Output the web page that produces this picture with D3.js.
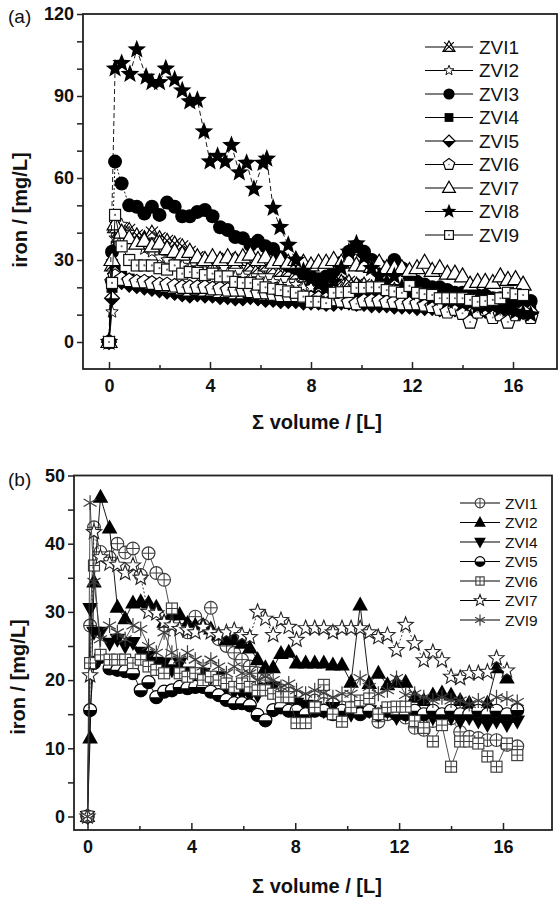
<!DOCTYPE html>
<html><head><meta charset="utf-8">
<script src="https://cdn.jsdelivr.net/npm/d3@7"></script>
<style>body{margin:0;background:#fff} svg{display:block} text{font-family:"Liberation Sans",Arial,sans-serif}</style>
</head><body><svg id="c" width="560" height="903"></svg>
<script>
// ---------- Panel (a) data ----------
const volumeA = [0,0.12,0.24,0.5,0.8,1.1,1.4,1.7,2.0,2.3, 2.6,2.9,3.2,3.5,3.8,4.1,4.4,4.7,5.0,5.3, 5.6,5.9,6.2,6.5,6.8,7.1,7.4,7.7,8.0,8.3, 8.6,8.9,9.2,9.5,9.8,10.1,10.4,10.7,11.0,11.3, 11.6,11.9,12.2,12.5,12.8,13.1,13.4,13.7,14.0,14.3, 14.6,14.9,15.2,15.5,15.8,16.1,16.4,16.7];
const zvi1A = [0,28,42,40,41,39,38,40,38,37, 36,35,33,31,30,29,30,30.5,29,30, 28,27,28,27,26,26,25,24,23,22, 22,23,22,22,21,21,20,20,19,19, 18,18,17.5,17,17,16.5,16,16,15.5,15, 15,14.5,14,14,13.5,13,13,12.5];
const zvi2A = [0,11,38,43,40,36,34,33,31,30, 29,28,27,27,26,26,25,25,24,24, 23,23,22,22,21,21,21,20,20,20, 19.5,19,19,19,18.5,18.5,18,18,18,17.5, 17.5,17,17,17,16.5,16.5,16,16,16,15.5, 15.5,15.5,15,15,15,15,14.5,14.5];
const zvi3A = [0,33,66,58,50,49.5,47,49.5,46.5,51, 49.5,46,46,47.6,48.3,46,42,41,38.4,38, 35.5,37,35,34,31,28,27,25,24,23, 24,26,29,33,35,33,30,28,27,30, 27,24,22,21,20,20,19,18,18,17, 17,17,16,16,16,16,15.5,15];
const zvi4A = [0,20,26,24,23,22,22,21,21,20, 20,19.5,19,19,18.5,18.5,18,18,18,17.5, 17.5,17.5,17,17,17,17,16.5,16.5,16.5,16, 16,16,16.5,17,17,16.5,16,16,15.5,15.5, 15,15,15,14.5,14.5,14,14,14,13.5,13.5, 13,13,13,12.5,12.5,12,12,12];
const zvi5A = [0,16,25,22,21,20.5,20,19.5,19,18.5, 18,17.5,17,17.5,17,17,16.5,16.5,16,16, 16.5,16,15.5,15.5,15,15,15,14.5,14.5,14.5, 14,14,14.5,14.5,14,14,13.5,13.5,13.5,13, 13,13,12.5,12.5,12.5,12,12,12,12,11.5, 11.5,11.5,11.5,11,11,11,11,11];
const zvi6A = [0,22,24,23,22.5,22,22,21.5,21,21, 20.5,20,20,20,20,19.5,19.5,19,19,19, 18.5,18,18,17.5,17,17,17,16.5,16,16, 15.5,15.5,15,14.5,14,15,15,15,14.5,14.5, 14,14,14,13.5,13,12,11,12,10.5,7.3, 11,12,9,10,7.3,10,11,9];
const zvi7A = [0,30,43,40,38,36,37,35,36,34, 33,32,33,31,30,31,30,31,30,31, 32,30,31,29,30,29,30,29,28,29, 29,30,29,30,28,28,27.5,29,27,27, 27,26,27,29,26,27,25,25,24,21, 22,22,21.6,24,22.7,23,21,null];
const zvi9A = [0,21.6,46.5,35,30,28,28,28,27,26.5, 28,25,25.6,25.3,24.5,25,24,24,22,21.6, 21.6,21,20,19.5,19,18.5,18,16.6,14.7,14.7, 14.2,18,18.2,18.3,19.8,19.8,20,20,19,18.5, 18,20.5,18,17.5,17.2,16,16,16,16,15.4, 14.7,15,15.4,16,18,17.5,17.2,null];
const volumeA8 = [0,0.24,0.5,0.83,1.1,1.47,1.7,2.0,2.25,2.6, 2.9,3.2,3.5,3.76,4.0,4.3,4.6,4.85,5.16,5.45, 5.74,6.1,6.25,6.5,6.77,7.1,7.4,7.7,8.0,8.3, 8.6,8.9,9.2,9.5,9.8,10.1,10.4,10.7,11.0,11.3, 11.6,11.9,12.2,12.5,12.8,13.1,13.4,13.7,14.0,14.3, 14.6,14.9,15.2,15.5,15.8,16.1,16.4,16.7];
const zvi8A = [0,100,102,98,107,97,95,95,100,96, 92,88,88.5,77,66,68,66,72,62,65.5, 56,65.5,67,49,42,35.5,30,26,23,21, 20,22,27,33,36,31,27,24,22,24, 20,18,19,17,16,16,15,15,14,14, 13,13,13,12,12,11,10.5,10];

// ---------- Panel (b) data ----------
const volumeB = [0,0.1,0.25,0.5,0.85,1.15,1.45,1.75,2.05,2.35, 2.65,2.95,3.25,3.55,3.85,4.15,4.45,4.75,5.05,5.35, 5.65,5.95,6.25,6.55,6.85,7.15,7.45,7.75,8.05,8.4, 8.75,9.1,9.45,9.8,10.15,10.5,10.85,11.2,11.55,11.9, 12.25,12.6,12.95,13.3,13.65,14.0,14.35,14.7,15.05,15.4, 15.75,16.15,16.55];
const zvi1B = [0,28,42.4,38.8,38,40,38.7,39.3,35.4,38.6, 35.7,34.7,29,28.3,27,29.3,28,30.6,26,25, 24,23,22,21,20,19,18.5,18,17.5,17, 17,16.5,16.5,16,16,16,15.5,13.9,15,15, 14.5,13,12.7,14,14.9,14.4,12.4,11.7,11.5,11.2, 11.2,10.5,10.3];
const zvi2B = [0,11.5,34.4,46.8,42.3,30.7,29,31.3,31.5,31.3, 30.7,28.5,29.6,29.6,28.3,28,28,27.5,26.6,25.9, 25.9,25.4,24.7,23,21.8,21.8,23.9,24.1,22.5,22.5, 22.5,22.5,22.2,22.2,19.7,31,19.5,21,19.3,19.7, 19.7,17.5,17,17.8,18.1,17.8,17,16.6,15.2,16.6, 21.8,20.3,null];
const zvi4B = [0,30.5,27,27,25.4,26,25,25.5,24.1,23.5, 22.6,22.5,21.5,22.5,21.2,21,21,20.5,20.5,18.5, 18.3,18,17.8,17.8,18.8,19,17.5,17,16.6,16.3, 16.1,15.5,16,15.5,15,16,15.5,15,15.5,14.5, 15,14.5,15,14.5,15,14.5,14,14.5,14,13.5, 14,13.5,14];
const zvi5B = [0,15.6,22.5,23.4,21.7,21.5,21.3,21,18.5,19.7, 17.5,18.3,18.5,19,18.8,19,19,18.3,17.8,17.1, 16.6,16.6,16.3,14.9,14.1,15.6,16,15.5,15.5,15, 15.5,15.5,15,15.5,15.5,15,15.5,15,15.5,15, 15,15.5,15,15.5,15,15.5,15,15,15.5,15, 15.5,15,15.6];
const zvi6B = [0,22.5,36.8,23.7,23,23,23,22.5,23,22, 21.5,21,30.5,21,20.5,21,20,20.5,20,19.5, 19,19.5,19,18.5,18.5,18,17.5,17.5,13.7,13.7, 16,19.3,15,13.9,16,17,17.3,15,16,16.1, 16.1,14,13,11,13.4,7.3,11,11,10.7,8.8, 7.3,10.7,9];
const zvi7B = [0,20.7,41.7,38,37.1,36.9,35.7,36.8,35,30, 29.8,28.5,28,27.5,27.3,27,27.8,27,26.6,27, 27.3,26.6,26.3,30,29,26.6,28.8,27.8,25.9,27.6, 27.6,27.6,27,27.6,27.6,27.6,27,26.3,26.6,24.4, 28.1,25.4,22.9,24.1,22.9,20.5,20.3,21,21,21.2, 23.2,21.4,null];
const zvi9B = [0,46,34.4,26,28,27,26,28,27.5,25, 24,27,24,23,24,23,22,23,22,21, 22,21,21,20,20.5,20,19,19.5,18.5,18, 18.5,18.1,17.5,18,18,20.3,19,18,18.5,20.3, 17.8,18,17.5,17,17.5,17,17,16.5,17,16.5, 17.5,17.3,16.8];

const ticksAx = [0,4,8,12,16], minorAx = [2,6,10,14];
const ticksAy = [0,30,60,90,120], minorAy = [10,20,40,50,70,80,100,110];
const ticksBx = [0,4,8,12,16], minorBx = [2,6,10,14];
const ticksBy = [0,10,20,30,40,50], minorBy = [5,15,25,35,45];

// ---------- drawing ----------
const svg = d3.select('#c');
const FONT = '"Liberation Sans",Arial,sans-serif';
const GRAY = '#3c3c3c';

function starPts(R, r){ const p=[]; for(let i=0;i<10;i++){const a=-Math.PI/2+i*Math.PI/5; const rr=i%2?r:R; p.push([rr*Math.cos(a), rr*Math.sin(a)]);} return p; }
function polyPts(n,R){ const p=[]; for(let i=0;i<n;i++){const a=-Math.PI/2+i*2*Math.PI/n; p.push([R*Math.cos(a),R*Math.sin(a)]);} return p; }
const P = pts => 'M'+pts.map(q=>q[0].toFixed(2)+','+q[1].toFixed(2)).join('L')+'Z';

function drawMarker(g, type, k){
  const s = v => v*k;
  const sw = 1.15;
  switch(type){
    case 'triX':
      g.append('path').attr('d', P([[0,s(-7.5)],[s(7.5),s(5.5)],[s(-7.5),s(5.5)]])).attr('fill','#fff').attr('stroke','#000').attr('stroke-width',sw);
      g.append('path').attr('d', `M${s(-6)},${s(-6)}L${s(6)},${s(5.5)}M${s(6)},${s(-6)}L${s(-6)},${s(5.5)}`).attr('stroke','#000').attr('stroke-width',sw).attr('fill','none');
      break;
    case 'starOpenS':
      g.append('path').attr('d', P(starPts(s(6.5), s(2.8)))).attr('fill','#fff').attr('stroke','#111').attr('stroke-width',1);
      break;
    case 'circleFill':
      g.append('circle').attr('r', s(7)).attr('fill','#000');
      break;
    case 'squareFill':
      g.append('rect').attr('x',s(-5.5)).attr('y',s(-5.5)).attr('width',s(11)).attr('height',s(11)).attr('fill','#000');
      break;
    case 'diamondHalf':
      g.append('path').attr('d', P([[0,s(-7.5)],[s(7.5),0],[0,s(7.5)],[s(-7.5),0]])).attr('fill','#fff').attr('stroke','#000').attr('stroke-width',sw);
      g.append('path').attr('d', P([[s(-7.5),0],[s(7.5),0],[0,s(7.5)]])).attr('fill','#000');
      break;
    case 'pentagonDot':
      g.append('path').attr('d', P(polyPts(5, s(7.5)))).attr('fill','#fff').attr('stroke','#000').attr('stroke-width',sw);
      g.append('circle').attr('r', s(1)).attr('fill','#777');
      break;
    case 'triOpen':
      g.append('path').attr('d', P([[0,s(-8.5)],[s(8),s(5.5)],[s(-8),s(5.5)]])).attr('fill','#fff').attr('stroke','#000').attr('stroke-width',1.2);
      break;
    case 'starFill':
      g.append('path').attr('d', P(starPts(s(9.8), s(4.2)))).attr('fill','#000');
      break;
    case 'squareDot':
      g.append('rect').attr('x',s(-5.5)).attr('y',s(-5.5)).attr('width',s(11)).attr('height',s(11)).attr('fill','#fff').attr('stroke','#111').attr('stroke-width',1.2);
      g.append('circle').attr('r', s(1.1)).attr('fill','#666');
      break;
    case 'circlePlus':
      g.append('circle').attr('r', s(6.4)).attr('fill','#fff').attr('stroke',GRAY).attr('stroke-width',sw);
      g.append('path').attr('d', `M${s(-6.4)},0L${s(6.4)},0M0,${s(-6.4)}L0,${s(6.4)}`).attr('stroke',GRAY).attr('stroke-width',1);
      break;
    case 'triUpFill':
      g.append('path').attr('d', P([[0,s(-8.5)],[s(7.8),s(5.5)],[s(-7.8),s(5.5)]])).attr('fill','#000');
      break;
    case 'triDownFill':
      g.append('path').attr('d', P([[0,s(8.5)],[s(7.8),s(-5.5)],[s(-7.8),s(-5.5)]])).attr('fill','#000');
      break;
    case 'circleHalf':
      g.append('circle').attr('r', s(6.5)).attr('fill','#fff').attr('stroke','#000').attr('stroke-width',sw);
      g.append('path').attr('d', `M${s(-6.5)},0A${s(6.5)},${s(6.5)} 0 0 0 ${s(6.5)},0Z`).attr('fill','#000');
      break;
    case 'squareGrid':
      g.append('rect').attr('x',s(-5.5)).attr('y',s(-5.5)).attr('width',s(11)).attr('height',s(11)).attr('fill','#fff').attr('stroke',GRAY).attr('stroke-width',sw);
      g.append('path').attr('d', `M${s(-5.5)},0L${s(5.5)},0M0,${s(-5.5)}L0,${s(5.5)}`).attr('stroke',GRAY).attr('stroke-width',1);
      break;
    case 'starOpen':
      g.append('path').attr('d', P(starPts(s(8), s(3.4)))).attr('fill','#fff').attr('stroke','#222').attr('stroke-width',1.1);
      break;
    case 'asterisk': {
      const L = s(7.5); const c = Math.cos(Math.PI/6)*L, d = Math.sin(Math.PI/6)*L;
      g.append('path').attr('d', `M0,${-L}L0,${L}M${-c},${-d}L${c},${d}M${-c},${d}L${c},${-d}`).attr('stroke',GRAY).attr('stroke-width',1.2).attr('fill','none');
      break; }
  }
}

function drawPanel(cfg){
  const {x, y, box, series, tx, mx, ty, my, letter, letterY, titleY, ytitleX, ytitleY, legend} = cfg;
  const root = svg.append('g');
  series.forEach(sr => {
    const pts = sr.xs.map((v,i)=>[v, sr.ys[i]]).filter(d=>d[1]!=null);
    const line = d3.line().x(d=>x(d[0])).y(d=>y(d[1]));
    root.append('path').attr('d', line(pts)).attr('fill','none').attr('stroke', sr.lc || '#000').attr('stroke-width', 0.9).attr('stroke-dasharray', sr.dash || null);
    root.append('g').selectAll('g').data(pts).join('g')
      .attr('transform', d=>`translate(${x(d[0])},${y(d[1])})`)
      .each(function(){ drawMarker(d3.select(this), sr.type, 1); });
  });
  root.append('rect').attr('x', box.l).attr('y', box.t).attr('width', box.r-box.l).attr('height', box.b-box.t)
    .attr('fill','none').attr('stroke','#222').attr('stroke-width',1.8);
  const ga = root.append('g').attr('transform', `translate(${box.l},0)`);
  ga.call(d3.axisLeft(y).tickValues(ty).tickSize(6).tickPadding(3).tickFormat(d3.format('d')));
  ga.append('g').call(d3.axisLeft(y).tickValues(my).tickSize(6).tickFormat(''));
  const gb = root.append('g').attr('transform', `translate(0,${box.b})`);
  gb.call(d3.axisBottom(x).tickValues(tx).tickSize(-7).tickPadding(10).tickFormat(d3.format('d')));
  gb.append('g').call(d3.axisBottom(x).tickValues(mx).tickSize(-4).tickFormat(''));
  root.selectAll('.domain').remove();
  root.selectAll('.tick line').attr('stroke','#222').attr('stroke-width',1.5);
  root.selectAll('.tick text').attr('font-family', FONT).attr('font-size', 18).attr('font-weight','bold').attr('fill','#111');
  root.append('text').attr('x', 8).attr('y', letterY).attr('font-size', 19).attr('fill','#111').text(letter);
  root.append('text').attr('x', 317).attr('y', titleY).attr('text-anchor','middle').attr('font-size', 20).attr('font-weight','bold').attr('fill','#111')
    .text('Σ volume / [L]');
  root.append('text').attr('transform', `translate(${ytitleX},${ytitleY}) rotate(-90)`).attr('text-anchor','middle').attr('font-size', 20).attr('font-weight','bold').attr('fill','#111')
    .text('iron / [mg/L]');
  const lg = root.append('g');
  series.forEach((sr, i) => {
    const cy = legend.y0 + i*legend.dy;
    lg.append('line').attr('x1', legend.x1).attr('x2', legend.x2).attr('y1', cy).attr('y2', cy).attr('stroke', '#000').attr('stroke-width', 1.1);
    drawMarker(lg.append('g').attr('transform', `translate(${(legend.x1+legend.x2)/2},${cy})`), sr.type, legend.k);
    lg.append('text').attr('x', legend.tx).attr('y', cy + legend.fs*0.36).attr('font-size', legend.fs).attr('fill','#111').text(sr.name);
  });
}

const xA = d3.scaleLinear().domain([0,16]).range([109,513]);
const yA = d3.scaleLinear().domain([0,120]).range([342,14]);
drawPanel({
  x: xA, y: yA, box: {l:83, r:557, t:14, b:369},
  tx: ticksAx, mx: minorAx, ty: ticksAy, my: minorAy,
  letter: '(a)', letterY: 23, titleY: 429, ytitleX: 27, ytitleY: 210,
  legend: {x1:425, x2:473, tx:479, y0:47, dy:23.5, fs:19, k:0.8},
  series: [
    {name:'ZVI1', xs: volumeA, ys: zvi1A, type:'triX'},
    {name:'ZVI2', xs: volumeA, ys: zvi2A, type:'starOpenS'},
    {name:'ZVI3', xs: volumeA, ys: zvi3A, type:'circleFill', dash:'2,2'},
    {name:'ZVI4', xs: volumeA, ys: zvi4A, type:'squareFill'},
    {name:'ZVI5', xs: volumeA, ys: zvi5A, type:'diamondHalf'},
    {name:'ZVI6', xs: volumeA, ys: zvi6A, type:'pentagonDot'},
    {name:'ZVI7', xs: volumeA, ys: zvi7A, type:'triOpen'},
    {name:'ZVI8', xs: volumeA8, ys: zvi8A, type:'starFill', dash:'5,3'},
    {name:'ZVI9', xs: volumeA, ys: zvi9A, type:'squareDot'}
  ]
});

const xB = d3.scaleLinear().domain([0,16]).range([87.5,503]);
const yB = d3.scaleLinear().domain([0,50]).range([816.5,475.5]);
drawPanel({
  x: xB, y: yB, box: {l:74, r:552, t:475.5, b:830},
  tx: ticksBx, mx: minorBx, ty: ticksBy, my: minorBy,
  letter: '(b)', letterY: 486, titleY: 893, ytitleX: 25, ytitleY: 677,
  legend: {x1:460, x2:500, tx:505, y0:503, dy:19.5, fs:15.5, k:0.75},
  series: [
    {name:'ZVI1', xs: volumeB, ys: zvi1B, type:'circlePlus', lc:GRAY},
    {name:'ZVI2', xs: volumeB, ys: zvi2B, type:'triUpFill'},
    {name:'ZVI4', xs: volumeB, ys: zvi4B, type:'triDownFill'},
    {name:'ZVI5', xs: volumeB, ys: zvi5B, type:'circleHalf'},
    {name:'ZVI6', xs: volumeB, ys: zvi6B, type:'squareGrid', lc:GRAY},
    {name:'ZVI7', xs: volumeB, ys: zvi7B, type:'starOpen', lc:'#222', dash:'2,2'},
    {name:'ZVI9', xs: volumeB, ys: zvi9B, type:'asterisk', lc:GRAY}
  ]
});
</script></body></html>
